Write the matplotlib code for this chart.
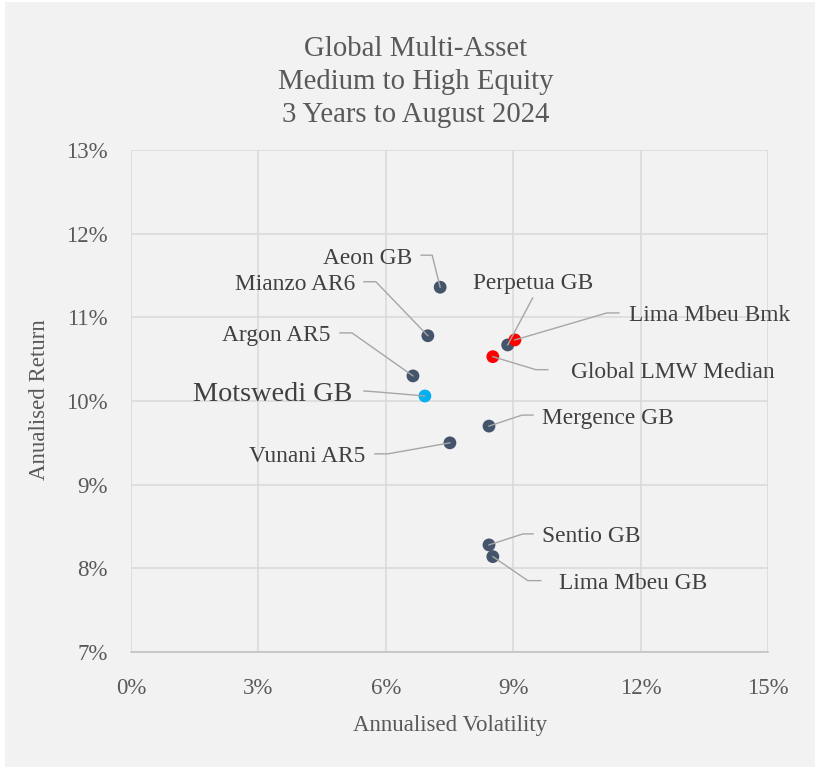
import numpy as np
import matplotlib.pyplot as plt
from matplotlib.lines import Line2D
from matplotlib.patches import Rectangle
from matplotlib.transforms import ScaledTranslation

plt.rcParams['font.family'] = ['Liberation Serif', 'DejaVu Serif']

# fund data (annualised volatility %, annualised return %)
funds = ['Aeon GB', 'Mianzo AR6', 'Argon AR5', 'Motswedi GB', 'Vunani AR5',
         'Mergence GB', 'Perpetua GB', 'Lima Mbeu Bmk', 'Global LMW Median',
         'Sentio GB', 'Lima Mbeu GB']
vol = [7.28, 6.99, 6.64, 6.92, 7.51, 8.43, 8.87, 9.04, 8.52, 8.43, 8.52]
ret = [11.36, 10.78, 10.30, 10.06, 9.50, 9.70, 10.67, 10.73, 10.53, 8.28, 8.14]
kind = ['fund', 'fund', 'fund', 'focus', 'fund', 'fund', 'fund', 'bench', 'bench', 'fund', 'fund']

xticks = [0, 3, 6, 9, 12, 15]
yticks = [7, 8, 9, 10, 11, 12, 13]

colors = {'fund': '#44546A', 'bench': '#FF0000', 'focus': '#00B0F0'}

# leader line layout in pixels relative to the point: elbow, end, text pos, ha, va
layout = {
    'Aeon GB':           ((-8, 32), (-19, 32), (-28, 29), 'right', 'center'),
    'Mianzo AR6':        ((-52, 54), (-64, 54), (-73, 51), 'right', 'center'),
    'Argon AR5':         ((-61, 43), (-73, 43), (-83, 40), 'right', 'center'),
    'Motswedi GB':       ((-47, 4), (-61, 5), (-72, 1), 'right', 'center'),
    'Vunani AR5':        ((-62, -11), (-75, -11), (-85, -14), 'right', 'center'),
    'Mergence GB':       ((33, 11), (44, 11), (53, 8), 'left', 'center'),
    'Perpetua GB':       ((25, 47), (25, 47), (25, 51), 'center', 'bottom'),
    'Lima Mbeu Bmk':     ((92, 27), (104, 27), (114, 24), 'left', 'center'),
    'Global LMW Median': ((43, -13), (55, -13), (78, -16), 'left', 'center'),
    'Sentio GB':         ((34, 11), (44, 11), (53, 8), 'left', 'center'),
    'Lima Mbeu GB':      ((35, -24), (48, -24), (66, -27), 'left', 'center'),
}

fig = plt.figure(figsize=(8.19, 7.71), dpi=100)
fig.patch.set_facecolor('white')
fig.patches.append(Rectangle((5/819, 4/771), 810/819, 765/771, transform=fig.transFigure,
                             facecolor='#F2F2F2', edgecolor='none', zorder=-5))

ax = fig.add_axes([131/819, 1-652/771, 637/819, 502/771])
ax.set_facecolor('none')
ax.set_xlim(0, 15)
ax.set_ylim(7, 13)
ax.set_xticks(xticks)
ax.set_yticks(yticks)
ax.set_xticklabels([f'{t}%' for t in xticks])
ax.set_yticklabels([f'{t}%' for t in yticks])
ax.grid(True, color='#D9D9D9', linewidth=1.1)
ax.set_axisbelow(True)
for s in ['top', 'right', 'left']:
    ax.spines[s].set_visible(False)
ax.spines['bottom'].set_color('#BFBFBF')
ax.spines['bottom'].set_linewidth(1.1)
ax.tick_params(length=0, labelsize=16.5, labelcolor='#595959')
ax.tick_params(axis='x', pad=19)
ax.tick_params(axis='y', pad=17)

for i, name in enumerate(funds):
    ax.scatter(vol[i], ret[i], s=85, color=colors[kind[i]], edgecolors='none', zorder=3)
    elbow, end, tpos, ha, va = layout[name]
    tr = ScaledTranslation(vol[i], ret[i], ax.transData)
    ax.add_line(Line2D([0, elbow[0], end[0]], [0, elbow[1], end[1]], transform=tr,
                       color='#A6A6A6', linewidth=1.0, zorder=4, clip_on=False))
    size = 20.3 if kind[i] == 'focus' else 16.8
    ax.annotate(name, xy=(vol[i], ret[i]), xytext=tpos, textcoords='offset pixels',
                ha=ha, va=va, fontsize=size, color='#404040', zorder=5)

fig.text(416/819, 1-82/771, 'Global Multi-Asset\nMedium to High Equity\n3 Years to August 2024',
         ha='center', va='center', fontsize=20.7, color='#595959', linespacing=1.33)
fig.text(450/819, 1-726/771, 'Annualised Volatility', ha='center', va='center',
         fontsize=16.5, color='#595959')
fig.text(40/819, 1-400/771, 'Anualised Return', ha='center', va='center', rotation=90,
         fontsize=16.5, color='#595959')

fig.savefig('out.png', dpi=100)
